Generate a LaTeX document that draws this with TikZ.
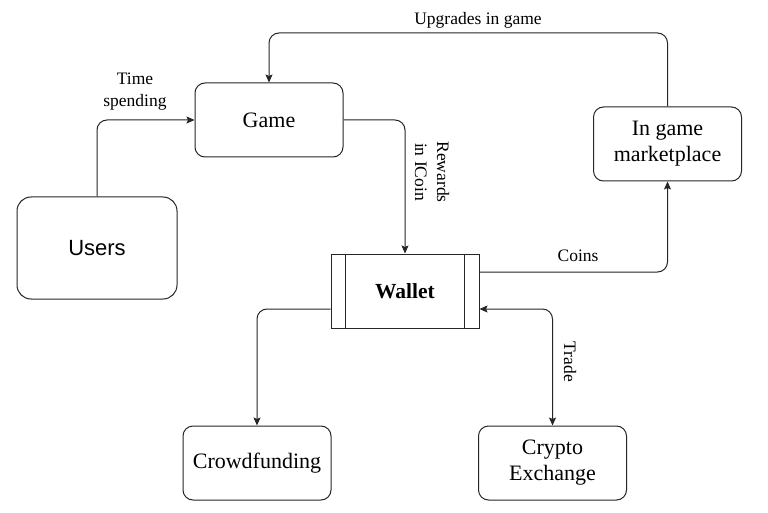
\documentclass[tikz,border=0pt]{standalone}
\usepackage{fontspec}
\setmainfont{Liberation Serif}
\newfontfamily\arialfont{Liberation Sans}
\usetikzlibrary{arrows.meta}
\usetikzlibrary{positioning}
\tikzset{
	>={Stealth[length=8pt,width=7pt,inset=1.5pt]},
	box/.style={
		rectangle,
		rounded corners=10pt,
		draw=black!85, line width=1pt,
		minimum width=148pt,
		minimum height=74pt,
		inner sep=0pt,
		align=center,
		font=\fontsize{22}{26}\selectfont},
	walletbox/.style={
		rectangle,
		draw=black!85, line width=1pt,
		minimum width=148pt,
		minimum height=74pt,
		inner sep=0pt,
		font=\fontsize{21.5}{26}\selectfont\bfseries},
	flow/.style={draw=black!85, line width=1pt, ->, rounded corners=10pt},
	lbl/.style={font=\fontsize{17.5}{22}\selectfont, align=center, inner sep=0pt},
}

\begin{document}
\begin{tikzpicture}
	[x=1pt,y=-1pt]
	\path[fill=white, use as bounding box] (0,0) rectangle (768,513);
	% boxes
	\node[box, rounded corners=14pt, minimum width=160pt, minimum height=102pt,
		font=\arialfont\fontsize{22}{26}\selectfont] (users) at (97,248) {Users};
	\node[box] (game) at (269,120) {Game};
	\node[box] (market) at (667.5,144) {In game\\marketplace};
	\node[walletbox] (wallet) at (405,291) {Wallet};
	\node[box] (crowd) at (257,463) {Crowdfunding};
	\node[box] (crypto) at (552.5,463) {Crypto\\Exchange};
	\draw[draw=black!85, line width=1pt] ([xshift=15pt]wallet.north west) -- ([xshift=15pt]wallet.south west);
	\draw[draw=black!85, line width=1pt] ([xshift=-15pt]wallet.north east) -- ([xshift=-15pt]wallet.south east);
	
	% connectors
	\coordinate (upg) at (470,33);
	\draw[flow] (users.north) |- (game.west);
	\draw[flow] (game.east) -| (wallet.north);
	\draw[flow] ([yshift=19pt]wallet.east) -| (market.south);
	\draw[flow] (market.north) |- (upg) -| (game.north);
	\draw[flow] ([yshift=-18pt]wallet.west) -| (crowd.north);
	\draw[flow, <->] ([yshift=-18pt]wallet.east) -| (crypto.north);
	
	% labels
	\node[lbl] (ltime) at (135,92) {Time\\spending};
	\node[lbl, rotate=-90] (lrew) at (432,172) {Rewards\\in ICoin};
	\node[lbl] (lcoins) at (578,256) {Coins};
	\node[lbl] (lupg) at (478,20) {Upgrades in game};
	\node[lbl, rotate=-90] (ltrade) at (570,362) {Trade};
\end{tikzpicture}
\end{document}
